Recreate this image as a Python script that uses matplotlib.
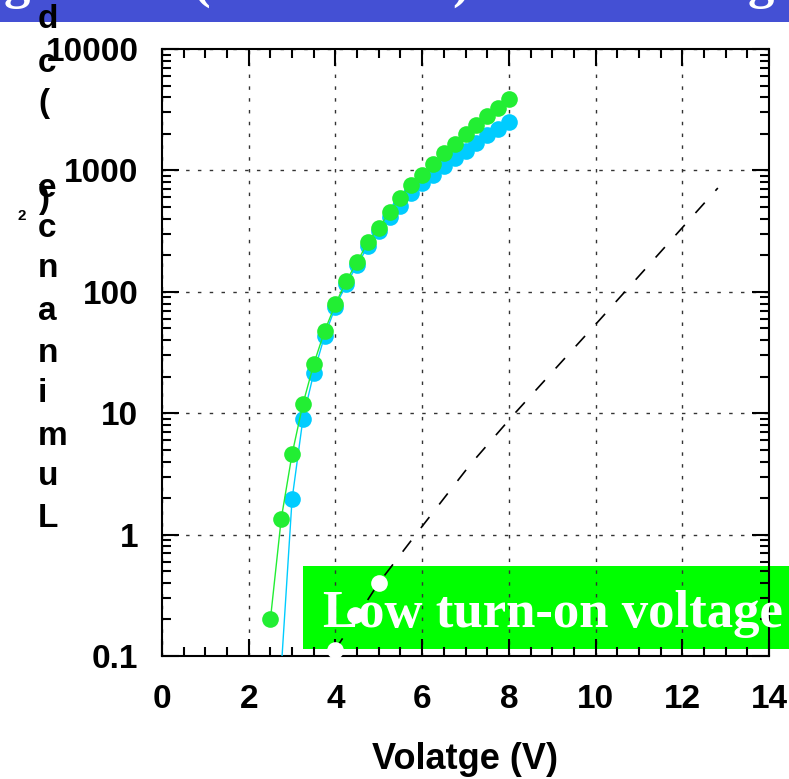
import matplotlib
matplotlib.use("Agg")
import matplotlib.pyplot as plt
from matplotlib.patches import Rectangle
from matplotlib.ticker import MultipleLocator, LogLocator, FixedLocator, NullFormatter

plt.rcParams['lines.scale_dashes'] = False

# ---- data ----
volt = [2.5, 2.75, 3.0, 3.25, 3.5, 3.75, 4.0, 4.25, 4.5, 4.75, 5.0, 5.25, 5.5,
        5.75, 6.0, 6.25, 6.5, 6.75, 7.0, 7.25, 7.5, 7.75, 8.0]
lum_green = [0.20, 1.35, 4.6, 11.9, 25.4, 47.5, 79, 123, 176, 257, 336, 454, 593,
             759, 916, 1130, 1391, 1649, 1995, 2366, 2807, 3266, 3873]
volt_cyan = [2.75, 3.0, 3.25, 3.5, 3.75, 4.0, 4.25, 4.5, 4.75, 5.0, 5.25, 5.5,
             5.75, 6.0, 6.25, 6.5, 6.75, 7.0, 7.25, 7.5, 7.75, 8.0]
lum_cyan = [0.078, 1.96, 8.96, 21.4, 43.3, 75, 116, 166, 238, 317, 413, 509,
            652, 787, 916, 1087, 1265, 1445, 1682, 1959, 2193, 2506]
volt_ref = [4.0, 4.45, 5.0]
lum_ref = [0.112, 0.218, 0.40]
volt_fit = [3.99, 5.0, 5.88, 7.1, 8.14, 10.1, 12.82]
lum_fit = [0.112, 0.40, 1.03, 3.74, 10.0, 59, 716]

xticks = [0, 2, 4, 6, 8, 10, 12, 14]
yticks = [0.1, 1, 10, 100, 1000, 10000]
ytick_labels = ['0.1', '1', '10', '100', '1000', '10000']
ylabel_chars = ['d', 'c', '(', 'e', ')', 'c', 'n', 'a', 'n', 'i', 'm', 'u', 'L']
ylabel_base = [28, 72, 112, 197, 208, 237, 277, 320, 362, 402, 445, 485, 527]
banner_chars = ['g', '(', ')', 'g']
banner_x = [4, 193, 452, 748]

W, H = 789, 779
fig = plt.figure(figsize=(W / 100, H / 100), dpi=100)
fig.patch.set_facecolor('white')

def fx(px):
    return px / W

def fy(py):
    return 1 - py / H

# banner
fig.patches.append(Rectangle((0, fy(22)), 1, 22 / H, transform=fig.transFigure,
                             facecolor='#4450D4', edgecolor='none', zorder=-2))
for ch, bx in zip(banner_chars, banner_x):
    fig.text(fx(bx), fy(-2), ch, color='white', fontsize=38, fontweight='bold',
             family='Liberation Serif', ha='left', va='baseline', zorder=-1)

# green annotation box (below axes)
fig.patches.append(Rectangle((fx(303), fy(649)), fx(789) - fx(303), (649 - 566) / H,
                             transform=fig.transFigure, facecolor='#00FF00',
                             edgecolor='none', zorder=-1))

left, right, top, bottom = 162, 769, 49, 656
ax = fig.add_axes([fx(left), fy(bottom), (right - left) / W, (bottom - top) / H])
ax.set_facecolor('none')

ax.plot(volt_cyan, lum_cyan, '-', color='#00CCFF', lw=1.0, zorder=3)
ax.plot(volt_cyan, lum_cyan, 'o', color='#00CCFF', ms=12, mec='none', zorder=3)
ax.plot(volt, lum_green, '-', color='#22EE33', lw=1.0, zorder=4)
ax.plot(volt, lum_green, 'o', color='#22EE33', ms=12, mec='none', zorder=4)
ax.plot(volt_fit, lum_fit, color='black', lw=1.2, dashes=(10, 11.5), zorder=5)
ax.plot(volt_ref, lum_ref, 'o', color='white', ms=12, mec='none', zorder=6,
        clip_on=False)

ax.set_yscale('log')
ax.set_xlim(0, 14)
ax.set_ylim(0.1, 10000)
ax.xaxis.set_major_locator(FixedLocator(xticks))
ax.xaxis.set_minor_locator(MultipleLocator(0.5))
ax.yaxis.set_major_locator(FixedLocator(yticks))
ax.yaxis.set_minor_locator(LogLocator(base=10, subs=range(2, 10)))
ax.yaxis.set_minor_formatter(NullFormatter())
ax.set_xticklabels([str(t) for t in xticks])
ax.set_yticklabels(ytick_labels)

for lab in ax.get_xticklabels() + ax.get_yticklabels():
    lab.set_fontfamily('Liberation Sans')
    lab.set_fontweight('bold')
    lab.set_fontsize(24)

ax.tick_params(which='both', direction='in', top=True, right=True, width=1.5,
               color='black')
ax.tick_params(which='major', length=12)
ax.tick_params(which='minor', length=6.5)
ax.tick_params(axis='x', which='major', pad=20)
ax.tick_params(axis='y', which='major', pad=17)
for sp in ax.spines.values():
    sp.set_linewidth(1.5)

ax.grid(True, which='major', color='#333333', lw=1.0, dashes=(2.5, 6))
ax.set_axisbelow(True)

# annotation text
fig.text(fx(323), fy(627), 'Low turn-on voltage', color='white', fontsize=38,
         fontweight='bold', family='Liberation Serif', ha='left', va='baseline')

# x label
fig.text(fx(465), fy(769), 'Volatge (V)', fontsize=26, fontweight='bold',
         family='Liberation Sans', ha='center', va='baseline')

# scrambled y label
for ch, by in zip(ylabel_chars, ylabel_base):
    fig.text(fx(38), fy(by), ch, fontsize=24, fontweight='bold',
             family='Liberation Sans', ha='left', va='baseline')
fig.text(fx(18), fy(220), '2', fontsize=11, fontweight='bold',
         family='Liberation Sans', ha='left', va='baseline')

fig.savefig('out.png', dpi=100)
